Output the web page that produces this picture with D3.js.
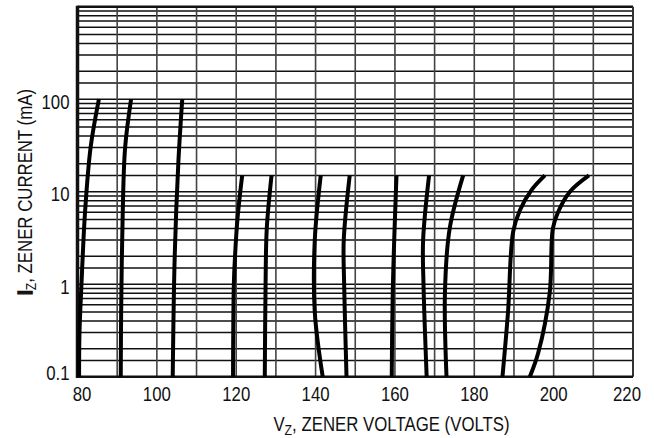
<!DOCTYPE html>
<html>
<head>
<meta charset="utf-8">
<script src="https://cdn.jsdelivr.net/npm/d3@7"></script>
<style>
  html, body { margin: 0; padding: 0; background: #fff; }
  svg { display: block; }
  text { font-family: "Liberation Sans", Arial, sans-serif; fill: #111; }
</style>
</head>
<body>
<svg id="chart" width="654" height="438"></svg>
<script>
// ---- data ----
const xTicks = [80, 100, 120, 140, 160, 180, 200, 220];
const xGrid = [90, 100, 110, 120, 130, 140, 150, 160, 170, 180, 190, 200, 210];
const yTicks = [0.1, 1, 10, 100];
const yTickLabels = ["0.1", "1", "10", "100"];
const decades = [0.1, 1, 10, 100];
const gridMultipliers = [1, 1.5, 2, 3, 4, 5, 6, 7, 8, 9];

// each curve: [voltage V, current mA]
const curve80  = [[80.4, 0.1], [80.5, 0.3], [81.0, 1], [81.9, 6], [83.3, 30], [85.4, 100]];
const curve91  = [[90.9, 0.1], [91.0, 0.5], [91.4, 6], [92.0, 30], [93.5, 100]];
const curve104 = [[104.0, 0.1], [104.5, 2], [105.4, 20], [106.4, 100]];
const curve119 = [[119.2, 0.1], [119.4, 1], [119.7, 2], [120.3, 5], [121.5, 15]];
const curve127 = [[127.2, 0.1], [127.4, 1], [127.7, 4], [128.9, 15]];
const curve140 = [[141.8, 0.1], [139.8, 0.5], [139.8, 3], [141.3, 15]];
const curve147 = [[147.8, 0.1], [147.2, 1], [147.1, 3], [148.6, 15]];
const curve159 = [[159.2, 0.1], [159.5, 1], [160.4, 15]];
const curve167 = [[168.0, 0.1], [167.2, 1], [167.1, 3], [168.6, 15]];
const curve173 = [[173.0, 0.1], [172.6, 0.8], [173.8, 4], [177.2, 15]];
const curve187 = [[187.1, 0.1], [188.5, 0.5], [189.8, 3.7], [191.5, 6.3], [194.4, 10.4], [197.8, 15]];
const curve194 = [[194.0, 0.1], [196.1, 0.18], [199.0, 0.8], [199.8, 4], [201.1, 6], [204.1, 10], [208.9, 15]];
const curves = [curve80, curve91, curve104, curve119, curve127, curve140, curve147,
                curve159, curve167, curve173, curve187, curve194];

// ---- layout ----
const L = 77.5, R = 633, T = 6.7, B = 376.7;
const FS = 20.5, SQ = 0.82;

const svg = d3.select("#chart");
const x = d3.scaleLinear().domain([80, 220]).range([L, R]);
const y = d3.scaleLog().domain([0.1, 1000]).range([B, T]);

const yGrid = [];
decades.forEach(d => gridMultipliers.forEach(m => yGrid.push(d * m)));
yGrid.push(1000);

// horizontal grid
svg.append("g").selectAll("line").data(yGrid).join("line")
  .attr("x1", L).attr("x2", R)
  .attr("y1", d => y(d)).attr("y2", d => y(d))
  .attr("stroke", "#111").attr("stroke-width", 1.5);

// vertical grid
svg.append("g").selectAll("line").data(xGrid).join("line")
  .attr("x1", d => x(d)).attr("x2", d => x(d))
  .attr("y1", T).attr("y2", B)
  .attr("stroke", "#444").attr("stroke-width", 1.6);

// borders
svg.append("line").attr("x1", L).attr("x2", R).attr("y1", T).attr("y2", T)
  .attr("stroke", "#111").attr("stroke-width", 2.5);
svg.append("line").attr("x1", R).attr("x2", R).attr("y1", T).attr("y2", B)
  .attr("stroke", "#333").attr("stroke-width", 2);
svg.append("line").attr("x1", L).attr("x2", R).attr("y1", B).attr("y2", B)
  .attr("stroke", "#111").attr("stroke-width", 2.6);
svg.append("line").attr("x1", L).attr("x2", L).attr("y1", T - 1).attr("y2", B + 1.3)
  .attr("stroke", "#111").attr("stroke-width", 3.5);

// curves
const line = d3.line()
  .x(d => x(d[0])).y(d => y(d[1]))
  .curve(d3.curveCatmullRom.alpha(0.5));
svg.append("g").selectAll("path").data(curves).join("path")
  .attr("d", line)
  .attr("fill", "none").attr("stroke", "#000")
  .attr("stroke-width", 4).attr("stroke-linecap", "butt");

// x tick labels
svg.append("g").selectAll("text").data(xTicks).join("text")
  .attr("transform", (d, i) => {
    let px = x(d);
    if (i === 0) px += 4.5;
    if (i === xTicks.length - 1) px -= 6;
    return `translate(${px},401) scale(${SQ},1)`;
  })
  .attr("text-anchor", "middle")
  .style("font-size", FS + "px")
  .text(d => d);

// y tick labels
svg.append("g").selectAll("text").data(yTicks).join("text")
  .attr("transform", (d, i) => {
    let py = Math.min(y(d) + 2.5, B - 4);
    return `translate(69.5,${py}) scale(${SQ},1)`;
  })
  .attr("text-anchor", "end")
  .attr("dominant-baseline", "central")
  .style("font-size", FS + "px")
  .text((d, i) => yTickLabels[i]);

// x axis title
const xt = svg.append("text")
  .attr("transform", `translate(391.5,430.5) scale(${SQ},1)`)
  .attr("text-anchor", "middle")
  .style("font-size", FS + "px");
xt.append("tspan").text("V");
xt.append("tspan").attr("dy", 4.5).style("font-size", "15px").text("Z");
xt.append("tspan").attr("dy", -4.5).text(", ZENER VOLTAGE (VOLTS)");

// y axis title
const yt = svg.append("text")
  .attr("transform", `translate(31.5,192) rotate(-90) scale(${SQ},1)`)
  .attr("text-anchor", "middle")
  .style("font-size", FS + "px");
yt.append("tspan").style("font-weight", "bold")
  .attr("stroke", "#111").attr("stroke-width", 1.6).text("I");
yt.append("tspan").attr("dy", 4.5).style("font-size", "15px").text("Z");
yt.append("tspan").attr("dy", -4.5).text(", ZENER CURRENT (mA)");
</script>
</body>
</html>
